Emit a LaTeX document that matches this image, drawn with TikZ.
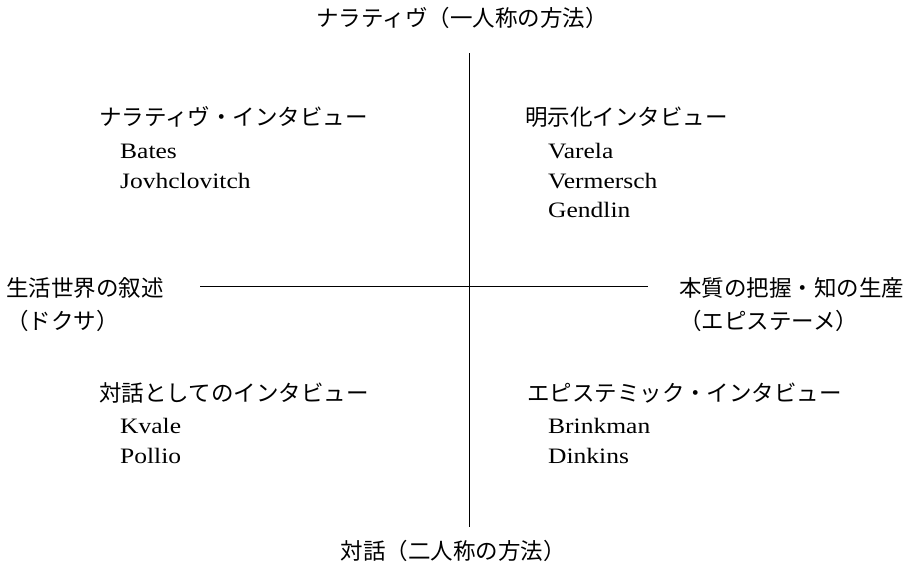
\documentclass[tikz,border=0pt]{standalone}
\usepackage{fontspec}
\setmainfont{Liberation Serif}
\newfontfamily\jfont{Noto Sans CJK JP}
\newcommand{\widelat}[1]{\scalebox{1.16}[1]{#1}}
\begin{document}
\begin{tikzpicture}[x=1pt,y=-1pt,
  jp/.style={inner sep=0pt,anchor=west,font=\jfont\fontsize{22.5}{30}\selectfont},
  lat/.style={inner sep=0pt,anchor=west,font=\fontsize{22}{30}\selectfont},
  axis/.style={line width=0.9pt,black}]
\useasboundingbox (0,0) rectangle (907,568);
% axes
\coordinate (vt) at (469,53);
\coordinate (vb) at (469,527);
\coordinate (hl) at (200,286);
\coordinate (hr) at (648,286);
\draw[axis] (vt) -- (vb);
\draw[axis] (hl) -- (hr);
% axis labels
\node[jp,anchor=center] (top) at (462,18) {ナラティヴ（一人称の方法）};
\node[jp,anchor=center] (bot) at (453,551) {対話（二人称の方法）};
\node[jp] (left1) at (6,288) {生活世界の叙述};
\node[jp] (left2) at (6,321) {（ドクサ）};
\node[jp] (right1) at (679,288) {本質の把握・知の生産};
\node[jp] (right2) at (679,321) {（エピステーメ）};
% quadrants
\node[jp] (tl) at (99,117) {ナラティヴ・インタビュー};
\node[lat] (tl1) at (120,151) {\widelat{Bates}};
\node[lat] (tl2) at (120,181) {\widelat{Jovhclovitch}};
\node[jp] (tr) at (525,117) {明示化インタビュー};
\node[lat] (tr1) at (548,151) {\widelat{Varela}};
\node[lat] (tr2) at (548,181) {\widelat{Vermersch}};
\node[lat] (tr3) at (548,210) {\widelat{Gendlin}};
\node[jp] (bl) at (99,393) {対話としてのインタビュー};
\node[lat] (bl1) at (120,426) {\widelat{Kvale}};
\node[lat] (bl2) at (120,456) {\widelat{Pollio}};
\node[jp] (br) at (527,393) {エピステミック・インタビュー};
\node[lat] (br1) at (548,426) {\widelat{Brinkman}};
\node[lat] (br2) at (548,456) {\widelat{Dinkins}};
\end{tikzpicture}
\end{document}
